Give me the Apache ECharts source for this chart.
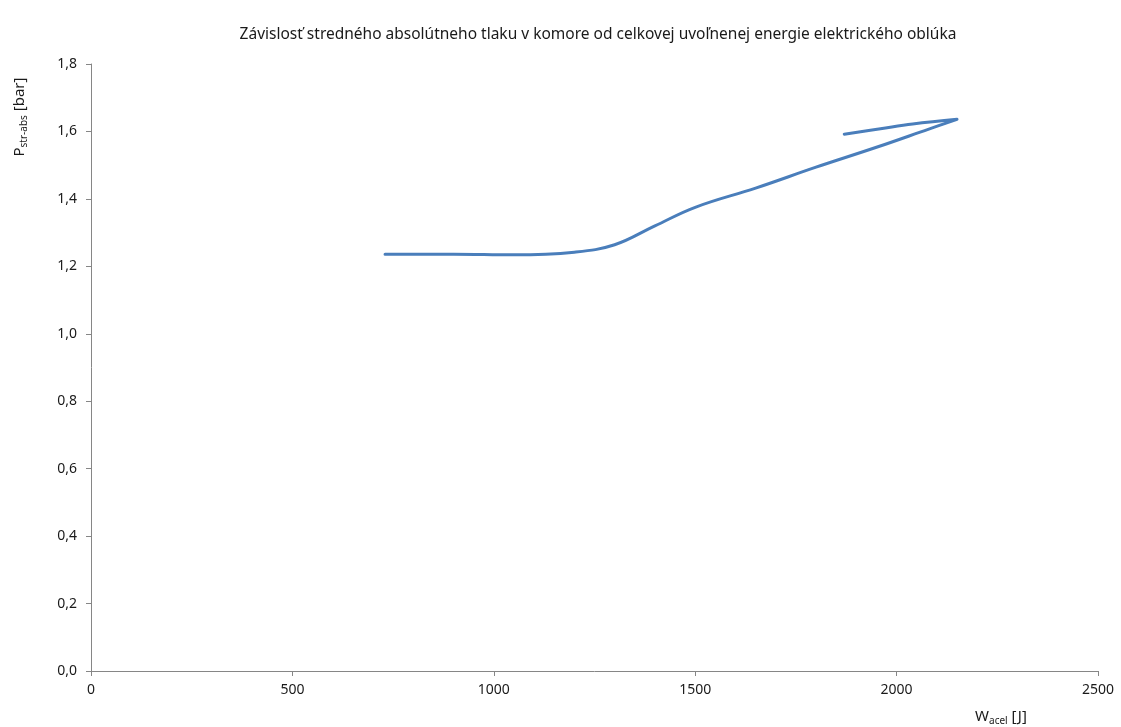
<!DOCTYPE html>
<html>
<head>
<meta charset="utf-8">
<script src="https://cdn.jsdelivr.net/npm/echarts@6/dist/echarts.min.js"></script>
<style>
  html, body { margin: 0; padding: 0; background: #ffffff; }
  #chart { width: 1121px; height: 727px; }
</style>
</head>
<body>
<div id="chart"></div>
<script>
// Released arc energy W_acel [J]
const energyJ = [730, 900, 1050, 1200, 1300, 1400, 1500, 1650, 1800, 1950, 2080, 2150, 2040, 1960, 1870];
// Mean absolute chamber pressure P_str-abs [bar]
const pressureBar = [1.236, 1.236, 1.234, 1.242, 1.264, 1.32, 1.375, 1.432, 1.494, 1.553, 1.607, 1.636, 1.622, 1.608, 1.592];

const titleText = 'Závislosť stredného absolútneho tlaku v komore od celkovej uvoľnenej energie elektrického oblúka';

const FONT = '"Noto Sans", "Open Sans", sans-serif';
const TEXT = '#1a1a1a';
const AXIS = '#868686';

const points = energyJ.map((x, i) => [x, pressureBar[i]]);

const chart = echarts.init(document.getElementById('chart'), null, { renderer: 'canvas' });

chart.setOption({
  backgroundColor: '#ffffff',
  animation: false,
  title: {
    text: titleText,
    left: 593,
    textAlign: 'center',
    top: 22,
    textStyle: { fontFamily: FONT, fontSize: 15.5, fontWeight: 'normal', color: TEXT }
  },
  grid: { left: 91, right: 23, top: 64, bottom: 56, containLabel: false },
  xAxis: {
    type: 'value',
    min: 0,
    max: 2500,
    interval: 500,
    axisLine: { show: true, lineStyle: { color: AXIS, width: 1 } },
    axisTick: { show: true, length: 5, inside: false, lineStyle: { color: AXIS } },
    splitLine: { show: false },
    axisLabel: {
      margin: 12,
      fontFamily: FONT,
      fontSize: 14,
      color: TEXT,
      formatter: v => String(v)
    }
  },
  yAxis: {
    type: 'value',
    min: 0,
    max: 1.8,
    interval: 0.2,
    axisLine: { show: true, lineStyle: { color: AXIS, width: 1 } },
    axisTick: { show: true, length: 5, inside: false, lineStyle: { color: AXIS } },
    splitLine: { show: false },
    axisLabel: {
      margin: 14,
      fontFamily: FONT,
      fontSize: 14,
      color: TEXT,
      formatter: v => v.toFixed(1).replace('.', ',')
    }
  },
  graphic: [
    {
      type: 'text',
      x: 1001,
      y: 717,
      style: {
        text: '{m|W}{s|acel}{m| [J]}',
        align: 'center',
        verticalAlign: 'middle',
        rich: {
          m: { fontFamily: FONT, fontSize: 15, fill: TEXT },
          s: { fontFamily: FONT, fontSize: 10, fill: TEXT, padding: [8, 0, 0, 0] }
        }
      }
    },
    {
      type: 'text',
      x: 20,
      y: 117,
      rotation: Math.PI / 2,
      style: {
        text: '{m|P}{s|str-abs}{m| [bar]}',
        align: 'center',
        verticalAlign: 'middle',
        rich: {
          m: { fontFamily: FONT, fontSize: 15, fill: TEXT },
          s: { fontFamily: FONT, fontSize: 10, fill: TEXT, padding: [8, 0, 0, 0] }
        }
      }
    }
  ],
  series: [
    {
      type: 'line',
      data: points,
      smooth: 0.4,
      showSymbol: false,
      symbol: 'none',
      lineStyle: { color: '#4A7EBB', width: 3, cap: 'round', join: 'round' },
      itemStyle: { color: '#4A7EBB' }
    }
  ]
});
</script>
</body>
</html>
